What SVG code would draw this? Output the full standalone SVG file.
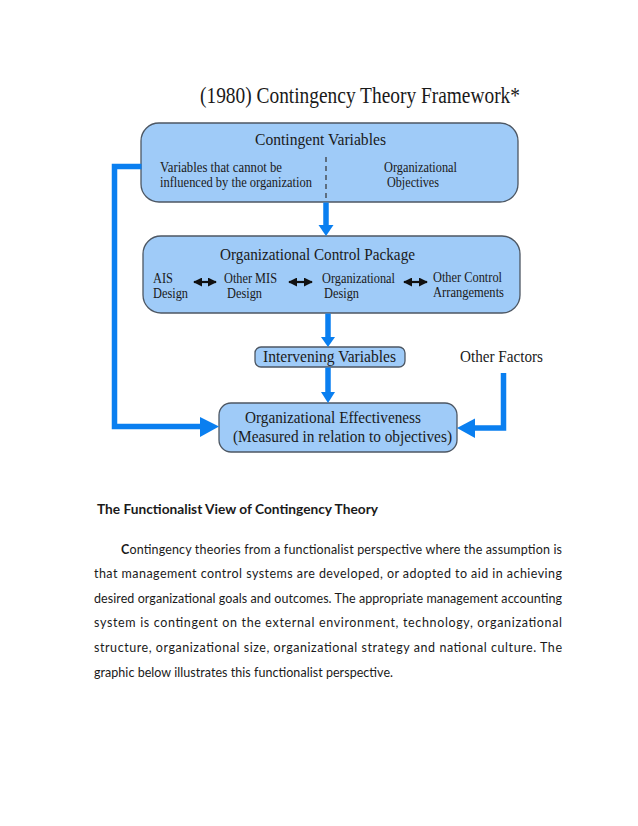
<svg xmlns="http://www.w3.org/2000/svg" width="638" height="826" viewBox="0 0 638 826">
<style>
.box{fill:#9fcbf8;stroke:#4d5763;stroke-width:1.3}
.t{font-family:"Liberation Serif",serif;fill:#1a1a1a}
.flow{fill:none;stroke:#0a7ff0;stroke-width:5.5;stroke-linejoin:miter}
.head{fill:#0a7ff0}
.blk{stroke:#111;stroke-width:2.2;fill:none}
.body{font-family:Lato,"Open Sans",sans-serif;fill:#1a1a1a;font-size:12.5px}
</style>
<defs>
<marker id="bh" viewBox="0 0 10 10" refX="9" refY="5" markerWidth="9" markerHeight="9" markerUnits="userSpaceOnUse" orient="auto-start-reverse">
<path d="M0,0 L10,5 L0,10 z" fill="#111"/>
</marker>
</defs>
<rect width="638" height="826" fill="#fff"/>
<text class="t" x="200" y="103" font-size="24" textLength="320" lengthAdjust="spacingAndGlyphs">(1980) Contingency Theory Framework*</text>

<g id="contingent-variables">
<rect class="box" x="141" y="123" width="377" height="79" rx="18"/>
<line x1="326" y1="157" x2="326" y2="199" stroke="#333" stroke-width="1.2" stroke-dasharray="5,4"/>
<text class="t" x="255" y="145" font-size="17.5" textLength="131" lengthAdjust="spacingAndGlyphs">Contingent Variables</text>
<text class="t" x="160" y="172" font-size="15" textLength="122" lengthAdjust="spacingAndGlyphs">Variables that cannot be</text>
<text class="t" x="160" y="187" font-size="15" textLength="152" lengthAdjust="spacingAndGlyphs">influenced by the organization</text>
<text class="t" x="384" y="172" font-size="15" textLength="73" lengthAdjust="spacingAndGlyphs">Organizational</text>
<text class="t" x="387" y="187" font-size="15" textLength="52" lengthAdjust="spacingAndGlyphs">Objectives</text>
</g>

<g id="control-package">
<rect class="box" x="143" y="236" width="377" height="77" rx="18"/>
<text class="t" x="220" y="260" font-size="17.5" textLength="195" lengthAdjust="spacingAndGlyphs">Organizational Control Package</text>
<text class="t" x="153" y="283" font-size="15" textLength="20" lengthAdjust="spacingAndGlyphs">AIS</text>
<text class="t" x="153" y="298" font-size="15" textLength="35" lengthAdjust="spacingAndGlyphs">Design</text>
<text class="t" x="224" y="283" font-size="15" textLength="53" lengthAdjust="spacingAndGlyphs">Other MIS</text>
<text class="t" x="227" y="298" font-size="15" textLength="35" lengthAdjust="spacingAndGlyphs">Design</text>
<text class="t" x="322" y="283" font-size="15" textLength="73" lengthAdjust="spacingAndGlyphs">Organizational</text>
<text class="t" x="324" y="298" font-size="15" textLength="35" lengthAdjust="spacingAndGlyphs">Design</text>
<text class="t" x="433" y="282" font-size="15" textLength="69" lengthAdjust="spacingAndGlyphs">Other Control</text>
<text class="t" x="433" y="297" font-size="15" textLength="71" lengthAdjust="spacingAndGlyphs">Arrangements</text>
</g>

<g id="intervening-variables">
<rect class="box" x="255" y="347" width="150" height="20" rx="6"/>
<text class="t" x="263" y="362" font-size="17.5" textLength="133" lengthAdjust="spacingAndGlyphs">Intervening Variables</text>
</g>

<g id="other-factors">
<text class="t" x="460" y="362" font-size="17.5" textLength="83" lengthAdjust="spacingAndGlyphs">Other Factors</text>
</g>

<g id="effectiveness">
<rect class="box" x="219" y="403" width="238" height="49" rx="12"/>
<text class="t" x="245" y="423" font-size="17.5" textLength="176" lengthAdjust="spacingAndGlyphs">Organizational Effectiveness</text>
<text class="t" x="233" y="442" font-size="17.5" textLength="219" lengthAdjust="spacingAndGlyphs">(Measured in relation to objectives)</text>
</g>

<g id="connectors">
<path class="flow" d="M326,202.5 V226"/>
<polygon class="head" points="318.5,225 333.5,225 326,236"/>
<path class="flow" d="M328,313.5 V338"/>
<polygon class="head" points="321,337 335,337 328,347"/>
<path class="flow" d="M328,367.5 V393"/>
<polygon class="head" points="321,392 335,392 328,403"/>
<path class="flow" d="M141.5,166.5 H114.5 V426.5 H201"/>
<polygon class="head" points="200,417 219,426.5 200,437"/>
<path class="flow" d="M503.5,373 V428 H474"/>
<polygon class="head" points="475,418.5 457,428 475,438"/>
<line class="blk" x1="194" y1="282" x2="216" y2="282" marker-start="url(#bh)" marker-end="url(#bh)"/>
<line class="blk" x1="289" y1="282" x2="312" y2="282" marker-start="url(#bh)" marker-end="url(#bh)"/>
<line class="blk" x1="404" y1="282" x2="427" y2="282" marker-start="url(#bh)" marker-end="url(#bh)"/>
</g>

<text class="body" x="97" y="514" font-size="13.5" font-weight="bold" textLength="281" lengthAdjust="spacingAndGlyphs">The Functionalist View of Contingency Theory</text>
<text class="body" x="121" y="554" textLength="441" lengthAdjust="spacing"><tspan font-weight="bold">C</tspan>ontingency theories from a functionalist perspective where the assumption is</text>
<text class="body" x="94" y="578" textLength="468" lengthAdjust="spacing">that management control systems are developed, or adopted to aid in achieving</text>
<text class="body" x="94" y="603" textLength="468" lengthAdjust="spacing">desired organizational goals and outcomes. The appropriate management accounting</text>
<text class="body" x="94" y="627" textLength="468" lengthAdjust="spacing">system is contingent on the external environment, technology, organizational</text>
<text class="body" x="94" y="652" textLength="468" lengthAdjust="spacing">structure, organizational size, organizational strategy and national culture. The</text>
<text class="body" x="94" y="677" textLength="299" lengthAdjust="spacing">graphic below illustrates this functionalist perspective.</text>
</svg>
